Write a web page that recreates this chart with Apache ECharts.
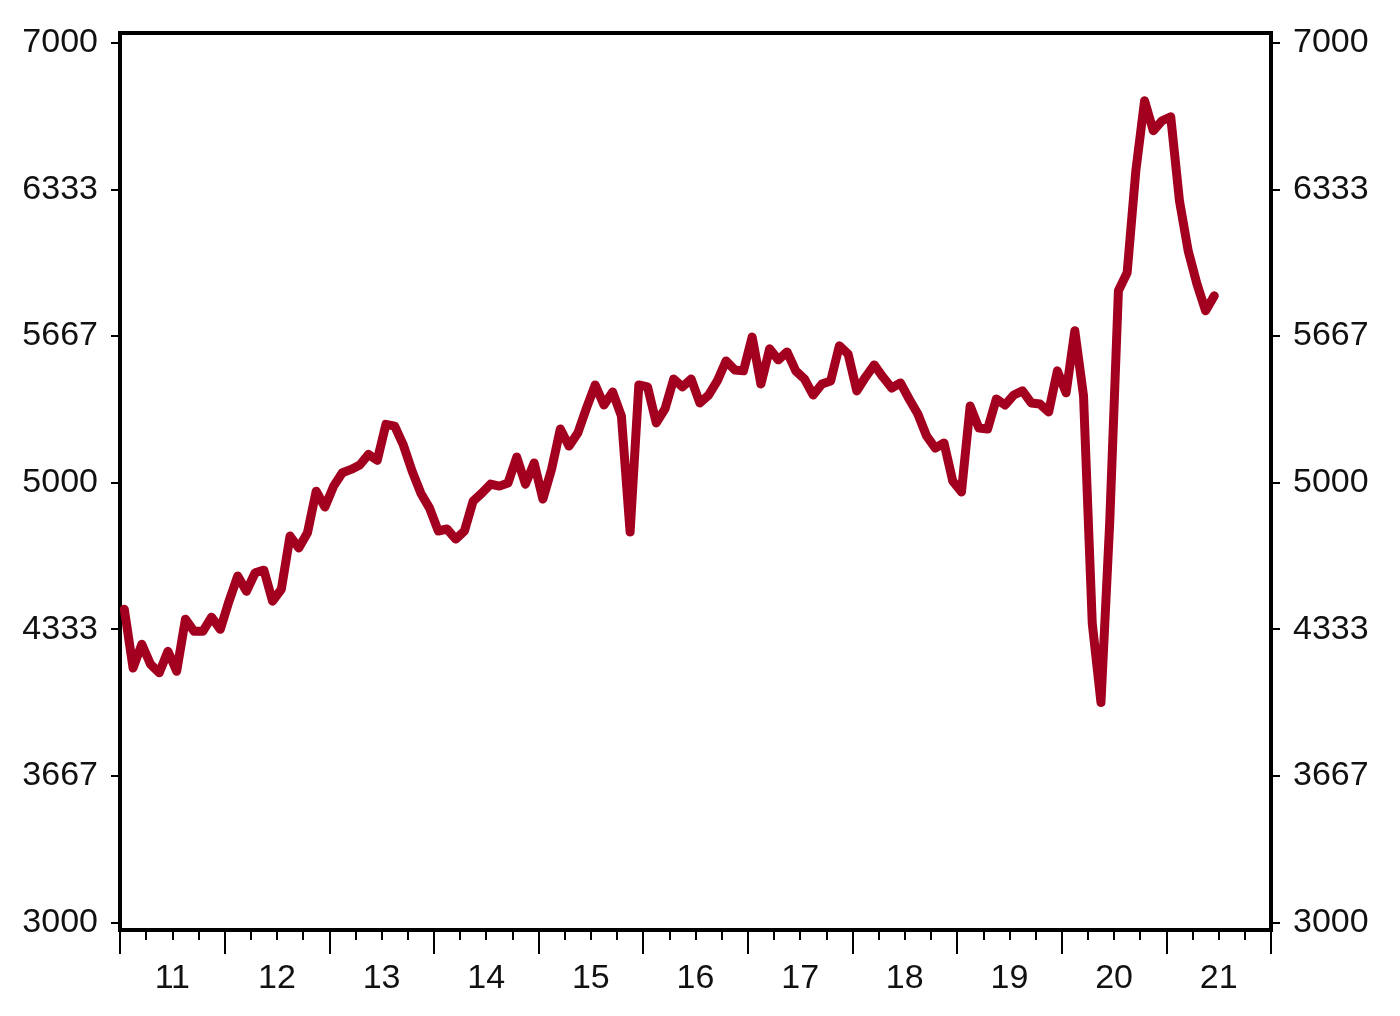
<!DOCTYPE html>
<html>
<head>
<meta charset="utf-8">
<script src="https://cdn.jsdelivr.net/npm/echarts@6/dist/echarts.min.js"></script>
<style>
html,body{margin:0;padding:0;background:#fff;}
#chart{width:1400px;height:1016px;}
</style>
</head>
<body>
<div id="chart"></div>
<script>
// Year labels on the x axis (2011–2021)
const yearLabels = ['11','12','13','14','15','16','17','18','19','20','21'];
const firstYear = 2011;

// Y axis tick values and labels
const yTicks = [3000, 3666.667, 4333.333, 5000, 5666.667, 6333.333, 7000];
const yTickLabels = ['3000','3667','4333','5000','5667','6333','7000'];

// Monthly values, Jan 2011 – Jun 2021
const values2011_2013 = [
  4424, 4157, 4265, 4174, 4135, 4233, 4142, 4379, 4324, 4324, 4388, 4333,
  4461, 4575, 4506, 4590, 4602, 4461, 4515, 4757, 4703, 4772, 4961, 4889,
  4984, 5045, 5060, 5080, 5128, 5101, 5265, 5257, 5170, 5052, 4952, 4884
];
const values2014_2016 = [
  4780, 4789, 4743, 4780, 4916, 4952, 4993, 4984, 4998, 5116, 4993, 5089,
  4925, 5062, 5244, 5166, 5225, 5339, 5444, 5353, 5412, 5303, 4775, 5444,
  5435, 5271, 5335, 5471, 5435, 5471, 5362, 5398, 5462, 5553, 5512, 5508
];
const values2017_2019 = [
  5662, 5448, 5608, 5558, 5594, 5508, 5471, 5398, 5448, 5462, 5622, 5585,
  5417, 5480, 5535, 5480, 5430, 5453, 5380, 5312, 5212, 5157, 5180, 5007,
  4957, 5348, 5248, 5244, 5380, 5353, 5398, 5417, 5362, 5357, 5321, 5508
];
const values2020_2021 = [
  5408, 5690, 5394, 4361, 4000, 4816, 5872, 5954, 6418, 6736, 6600, 6645,
  6663, 6281, 6054, 5904, 5781, 5849
];
const seriesValues = values2011_2013.concat(values2014_2016, values2017_2019, values2020_2021);

// Month categories covering the full axis span (2011-01 .. 2021-12)
const monthCats = [];
for (let i = 0; i < yearLabels.length; i++) {
  for (let m = 1; m <= 12; m++) monthCats.push((firstYear + i) + '-' + (m < 10 ? '0' + m : m));
}

const FONT = "'Liberation Sans', Arial, sans-serif";
const labelStyle = { color: '#111', fontSize: 34, fontFamily: FONT };

const chart = echarts.init(document.getElementById('chart'), null, { renderer: 'canvas' });

const yAxisCommon = {
  type: 'value',
  min: 2966,
  max: 7044,
  splitLine: { show: false },
  axisLine: { show: false },
  axisTick: { show: true, inside: false, length: 9, lineStyle: { color: '#000', width: 2 }, customValues: yTicks },
  axisLabel: Object.assign({
    margin: 22,
    customValues: yTicks,
    formatter: function (v) {
      const i = yTicks.findIndex(t => Math.abs(t - v) < 1);
      return i >= 0 ? yTickLabels[i] : '';
    }
  }, labelStyle)
};

chart.setOption({
  animation: false,
  backgroundColor: '#ffffff',
  grid: {
    left: 120, right: 129, top: 33, bottom: 86,
    show: true, borderColor: '#000', borderWidth: 4, backgroundColor: '#fff'
  },
  xAxis: [
    {
      type: 'category',
      data: monthCats,
      boundaryGap: true,
      position: 'bottom',
      axisLine: { show: false, onZero: false },
      axisTick: {
        show: true, length: 10, lineStyle: { color: '#000', width: 2 },
        interval: function (idx) { return idx % 3 === 0; }
      },
      axisLabel: { show: false },
      splitLine: { show: false }
    },
    {
      type: 'category',
      data: yearLabels,
      boundaryGap: true,
      position: 'bottom',
      axisLine: { show: false, onZero: false },
      axisTick: { show: true, length: 24, interval: 0, lineStyle: { color: '#000', width: 2 } },
      axisLabel: Object.assign({ margin: 32, interval: 0 }, labelStyle),
      splitLine: { show: false }
    }
  ],
  yAxis: [
    Object.assign({ position: 'left' }, yAxisCommon),
    Object.assign({ position: 'right' }, yAxisCommon)
  ],
  series: [{
    type: 'line',
    xAxisIndex: 0,
    yAxisIndex: 0,
    data: seriesValues,
    showSymbol: false,
    symbol: 'none',
    lineStyle: { color: '#a3001f', width: 9, join: 'round', cap: 'round' }
  }]
});
</script>
</body>
</html>
